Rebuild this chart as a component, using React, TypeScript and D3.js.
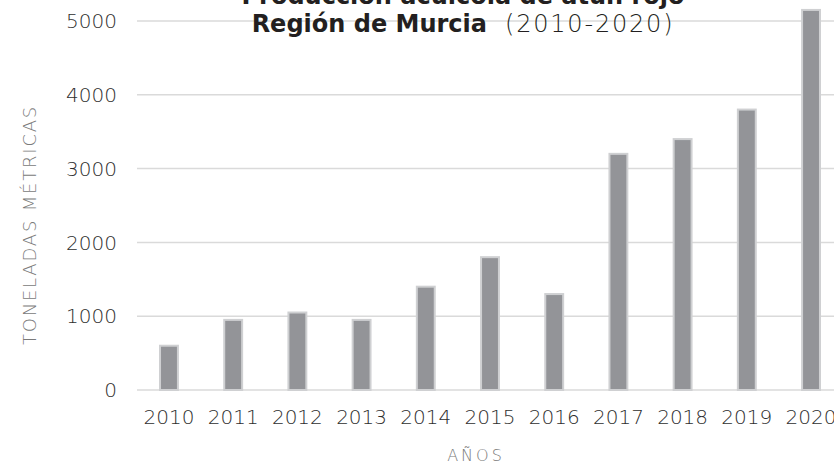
import React, { useEffect, useRef } from "react";
import * as d3 from "d3";

// Producción acuícola de atún rojo, Región de Murcia (toneladas)
const years = ["2010", "2011", "2012", "2013", "2014", "2015", "2016", "2017", "2018", "2019", "2020"];
const tonnes = [600, 950, 1050, 950, 1400, 1800, 1300, 3200, 3400, 3800, 5150];
const yTicks = [0, 1000, 2000, 3000, 4000, 5000];

const width = 834;
const height = 463;
const font = "'DejaVu Sans', sans-serif";

const App = () => {
  const ref = useRef<SVGSVGElement>(null);

  useEffect(() => {
    const svg = d3.select(ref.current);
    svg.selectAll("*").remove();

    const x = d3.scaleBand<string>()
      .domain(years)
      .range([137, 843])
      .paddingInner(0.69)
      .paddingOuter(0.343);

    const y = d3.scaleLinear().domain([0, 5000]).range([390, 21]);

    // grid
    svg.append("g")
      .selectAll("line")
      .data(yTicks)
      .join("line")
      .attr("x1", 137)
      .attr("x2", width)
      .attr("y1", d => y(d))
      .attr("y2", d => y(d))
      .attr("stroke", "#dadada")
      .attr("stroke-width", 1.5);

    // y tick labels
    svg.append("g")
      .selectAll("text")
      .data(yTicks)
      .join("text")
      .attr("x", 117)
      .attr("y", d => y(d))
      .attr("dy", "0.36em")
      .attr("text-anchor", "end")
      .style("font", `200 20px ${font}`)
      .attr("fill", "#2e2e2e")
      .text(d => d);

    // bars
    svg.append("g")
      .selectAll("rect")
      .data(tonnes)
      .join("rect")
      .attr("x", (d, i) => x(years[i])! + 1)
      .attr("width", x.bandwidth() - 2)
      .attr("y", d => y(d))
      .attr("height", d => y(0) - y(d))
      .attr("fill", "#939498")
      .attr("stroke", "#cfd0d2")
      .attr("stroke-width", 2);

    // x tick labels
    svg.append("g")
      .selectAll("text")
      .data(years)
      .join("text")
      .attr("x", d => x(d)! + x.bandwidth() / 2)
      .attr("y", 424)
      .attr("text-anchor", "middle")
      .style("font", `200 20px ${font}`)
      .attr("fill", "#2e2e2e")
      .text(d => d);

    // axis titles
    svg.append("text")
      .attr("x", 476)
      .attr("y", 461)
      .attr("text-anchor", "middle")
      .style("font", `200 16px ${font}`)
      .style("letter-spacing", "3px")
      .attr("fill", "#7a7a7a")
      .text("AÑOS");

    svg.append("text")
      .attr("transform", "translate(36,225) rotate(-90)")
      .attr("text-anchor", "middle")
      .style("font", `200 18px ${font}`)
      .style("letter-spacing", "1.8px")
      .attr("fill", "#7a7a7a")
      .text("TONELADAS MÉTRICAS");

    // title
    const title = svg.append("g").attr("fill", "#231f20");
    title.append("text")
      .attr("x", 463)
      .attr("y", 4)
      .attr("text-anchor", "middle")
      .style("font", `700 24px ${font}`)
      .text("Producción acuícola de atún rojo");
    const t2 = title.append("text")
      .attr("x", 463)
      .attr("y", 32)
      .attr("text-anchor", "middle")
      .style("font-family", font)
      .style("font-size", "24px");
    t2.append("tspan").style("font-weight", 700).text("Región de Murcia");
    t2.append("tspan")
      .style("font-weight", 200)
      .style("letter-spacing", "1.8px")
      .attr("dx", 18)
      .text("(2010-2020)");
  }, []);

  return (
    <svg
      ref={ref}
      width={width}
      height={height}
      style={{ position: "absolute", left: 0, top: 0, background: "#fff" }}
    />
  );
};

export default App;
